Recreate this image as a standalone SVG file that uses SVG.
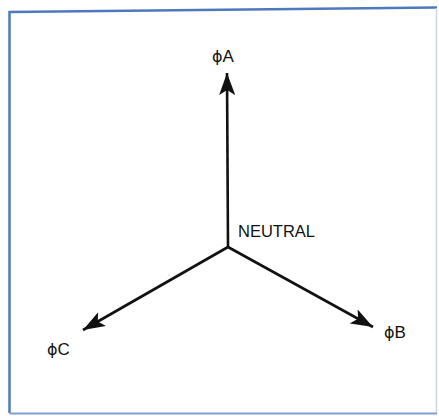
<svg xmlns="http://www.w3.org/2000/svg" width="439" height="416" viewBox="0 0 439 416">
<style>
.frame{fill:none;stroke:#4f79bd;stroke-width:2.5}
.frame-lt{fill:none;stroke:#c9d6ea;stroke-width:1.5}
.vec{stroke:#111;stroke-width:2.6;fill:none}
.lbl{font-family:"Liberation Sans",Arial,sans-serif;font-size:17px;fill:#111}
.phi{font-family:"DejaVu Sans",sans-serif;font-size:16px}
</style>
<defs>
<marker id="ah" markerUnits="userSpaceOnUse" markerWidth="24" markerHeight="16" refX="22" refY="8" orient="auto" viewBox="0 0 24 16">
<path d="M0,0 L22,8 L0,16 L5,8 Z" fill="#111"/>
</marker>
</defs>
<g id="frame">
<polyline class="frame" points="9.5,413 9.5,12 437,7.5"/>
<line class="frame-lt" x1="436.5" y1="8" x2="436.5" y2="413"/>
<line class="frame" x1="9.5" y1="413.5" x2="437" y2="413.5" style="stroke:#7f9fd0;stroke-width:2"/>
</g>
<g id="connectors">
<line class="vec" x1="228" y1="247" x2="227" y2="73" marker-end="url(#ah)"/>
<line class="vec" x1="228" y1="247" x2="83" y2="330" marker-end="url(#ah)"/>
<line class="vec" x1="228" y1="247" x2="373" y2="327" marker-end="url(#ah)"/>
</g>
<g id="phaseA"><text class="lbl" x="212" y="62"><tspan class="phi">ϕ</tspan>A</text></g>
<g id="neutral"><text class="lbl" x="238" y="237" textLength="77" lengthAdjust="spacingAndGlyphs">NEUTRAL</text></g>
<g id="phaseC"><text class="lbl" x="47" y="355"><tspan class="phi">ϕ</tspan>C</text></g>
<g id="phaseB"><text class="lbl" x="384" y="338"><tspan class="phi">ϕ</tspan>B</text></g>
</svg>
